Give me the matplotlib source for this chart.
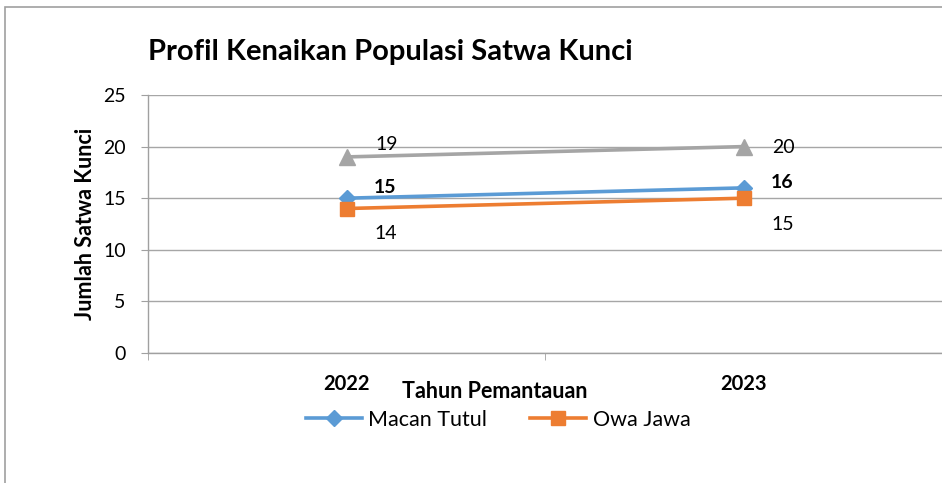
import matplotlib
matplotlib.use("Agg")
import matplotlib.pyplot as plt
from matplotlib.patches import Rectangle

# data
years = ["2022", "2023"]
macan_tutul = [15, 16]
owa_jawa = [14, 15]
satwa_lain = [19, 20]  # grey series, not named in the legend

plt.rcParams["font.family"] = ["Lato", "DejaVu Sans"]

W, H = 942, 483
fig = plt.figure(figsize=(W / 100, H / 100), dpi=100)

# plot area in pixels: x 148..942, y 95..353
ax = fig.add_axes([148 / W, 1 - 353 / H, (W - 148) / W, 258 / H])
x = list(range(len(years)))

ax.plot(x, satwa_lain, color="#A5A5A5", lw=2.6, marker="^", ms=11, zorder=3)
ax.plot(x, macan_tutul, color="#5B9BD5", lw=2.6, marker="D", ms=8, zorder=4, label="Macan Tutul")
ax.plot(x, owa_jawa, color="#ED7D31", lw=2.6, marker="s", ms=10, zorder=5, label="Owa Jawa")

# data labels
for i, v in enumerate(satwa_lain):
    ax.annotate(str(v), (i, v), xytext=(29, 9 if i == 0 else -1), textcoords="offset points",
                ha="center", va="center", fontsize=14)
for i, v in enumerate(macan_tutul):
    ax.annotate(str(v), (i, v), xytext=(28, 8 if i == 0 else 4), textcoords="offset points",
                ha="center", va="center", fontsize=14, fontweight="bold")
for i, v in enumerate(owa_jawa):
    ax.annotate(str(v), (i, v), xytext=(28, -18 if i == 0 else -19), textcoords="offset points",
                ha="center", va="center", fontsize=14)

ax.set_ylim(0, 25)
ax.set_yticks([0, 5, 10, 15, 20, 25])
ax.set_xlim(-0.5, (W - 349) / 403)
ax.set_xticks(x)
ax.set_xticklabels(years, fontweight="bold", fontsize=14.5)
ax.set_xticks([-0.5, 0.5, 1.5], minor=True)
ax.tick_params(axis="x", which="major", length=0, pad=15)
ax.tick_params(axis="x", which="minor", length=5, color="#A0A0A0", direction="out")
ax.tick_params(axis="y", length=5, color="#A0A0A0", labelsize=14, pad=11)

ax.grid(axis="y", color="#A6A6A6", lw=1)
ax.set_axisbelow(True)
for s in ["top", "right"]:
    ax.spines[s].set_visible(False)
for s in ["left", "bottom"]:
    ax.spines[s].set_color("#A0A0A0")
    ax.spines[s].set_linewidth(1)

fig.text(148 / W, 1 - 52 / H, "Profil Kenaikan Populasi Satwa Kunci",
         fontsize=21, fontweight="bold", ha="left", va="center")
fig.text(86 / W, 1 - 224 / H, "Jumlah Satwa Kunci", rotation=90,
         fontsize=15.5, fontweight="bold", ha="center", va="center")
fig.text(495 / W, 1 - 391 / H, "Tahun Pemantauan",
         fontsize=15.5, fontweight="bold", ha="center", va="center")

fig.legend(loc="center", bbox_to_anchor=(498 / W, 1 - 420 / H), ncol=2, frameon=False,
           fontsize=15.5, handlelength=2.6, columnspacing=2.0, handletextpad=0.3)

# chart border (cropped at right and bottom)
fig.patches.append(Rectangle((5 / W, -0.1), 1.2, 1.1 - 7 / H, transform=fig.transFigure,
                             fill=False, edgecolor="#A0A0A0", lw=1.2))

fig.savefig("out.png", dpi=100)
